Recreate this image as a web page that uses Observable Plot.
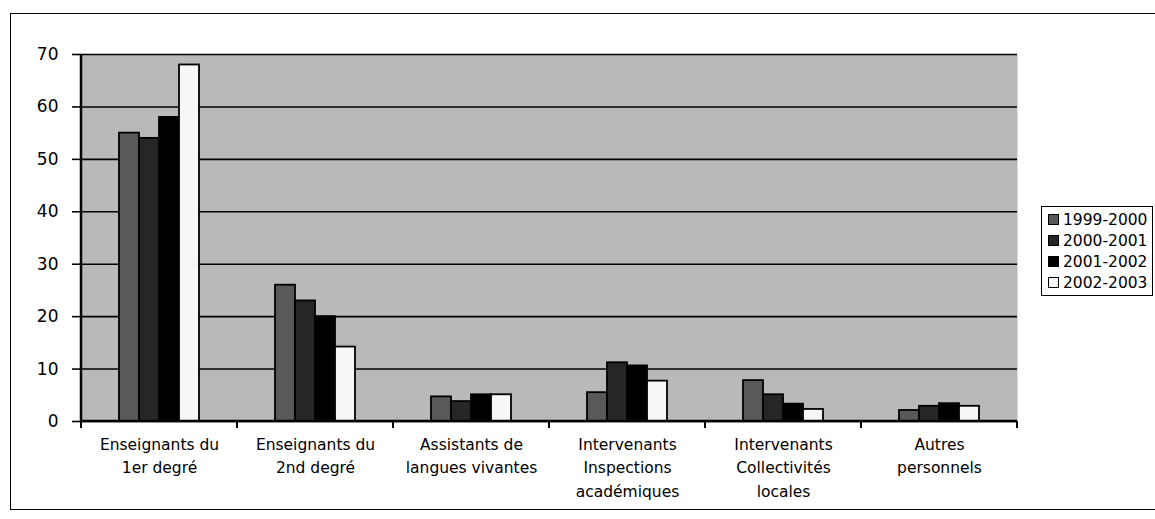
<!DOCTYPE html>
<html>
<head>
<meta charset="utf-8">
<script src="https://cdn.jsdelivr.net/npm/d3@7"></script>
<script src="https://cdn.jsdelivr.net/npm/@observablehq/plot@0.6"></script>
<style>
  html, body { margin: 0; padding: 0; background: #fff; }
  #wrap { position: relative; width: 1155px; height: 519px; overflow: hidden; font-family: "DejaVu Sans", sans-serif; }
  #border { position: absolute; left: 10px; top: 13px; width: 1160px; height: 497px; border: 1.5px solid #000; box-sizing: border-box; }
  #chart { position: absolute; left: 0; top: 0; }
  #legend { position: absolute; left: 1041px; top: 206px; width: 112px; border: 1.5px solid #000; box-sizing: border-box; background: #fff; padding: 2px 0 2px 6px; }
  .item { display: flex; align-items: center; height: 21px; font-size: 15.5px; color: #000; white-space: nowrap; }
  .sw { width: 11px; height: 11px; border: 1.5px solid #000; box-sizing: border-box; margin-right: 4px; }
</style>
</head>
<body>
<div id="wrap">
  <div id="border"></div>
  <div id="chart"></div>
  <div id="legend"></div>
</div>
<script>
const categories = [
  "Enseignants du\n1er degré",
  "Enseignants du\n2nd degré",
  "Assistants de\nlangues vivantes",
  "Intervenants\nInspections\nacadémiques",
  "Intervenants\nCollectivités\nlocales",
  "Autres\npersonnels"
];
const series = ["1999-2000", "2000-2001", "2001-2002", "2002-2003"];
const v1999 = [55, 26, 4.7, 5.5, 7.8, 2.1];
const v2000 = [54, 23, 3.8, 11.2, 5.1, 2.9];
const v2001 = [58, 20, 5.1, 10.6, 3.3, 3.4];
const v2002 = [68, 14.2, 5.1, 7.7, 2.3, 2.9];
const yTicks = [0, 10, 20, 30, 40, 50, 60, 70];

const seriesValues = [v1999, v2000, v2001, v2002];
const colors = ["#595959", "#262626", "#000000", "#f7f7f7"];
const data = [];
categories.forEach((c, i) => series.forEach((s, j) => data.push({cat: c, series: s, value: seriesValues[j][i]})));

const chart = Plot.plot({
  width: 1155,
  height: 519,
  marginTop: 54,
  marginBottom: 98,
  marginLeft: 79,
  marginRight: 136,
  style: {fontFamily: "DejaVu Sans, sans-serif", background: "transparent", color: "#000"},
  fx: {domain: categories, padding: 0, label: null},
  x: {domain: series, paddingInner: 0, paddingOuter: 1.82, axis: null},
  y: {domain: [0, 70], label: null},
  color: {domain: series, range: colors},
  marks: [
    Plot.frame({facet: "super", fill: "#b9b9b9", stroke: "none"}),
    Plot.ruleY(yTicks, {stroke: "#000", strokeWidth: 1.6}),
    Plot.barY(data, {fx: "cat", x: "series", y: "value", fill: "series", stroke: "#000", strokeWidth: 1.8}),
    Plot.axisY({ticks: yTicks, tickSize: 9, tickPadding: 14, fontSize: 17, strokeWidth: 1.6, label: null}),
    Plot.axisFx({anchor: "bottom", tickSize: 0, tickPadding: 12, fontSize: 15.5, lineHeight: 1.5, label: null}),
    Plot.frame({
      facet: "super",
      stroke: "none",
      render: (index, scales, values, dims) => {
        const {fx} = scales;
        const g = d3.create("svg:g").attr("stroke", "#000").attr("fill", "none");
        const x0 = dims.marginLeft, x1 = dims.width - dims.marginRight;
        const y0 = dims.height - dims.marginBottom, yTop = dims.marginTop;
        g.append("line").attr("x1", x0).attr("x2", x0).attr("y1", yTop).attr("y2", y0).attr("stroke-width", 2.5);
        g.append("line").attr("x1", x0).attr("x2", x1).attr("y1", y0).attr("y2", y0).attr("stroke-width", 2.5);
        const edges = categories.map(c => fx(c)).concat([x1]);
        for (const e of edges) g.append("line").attr("x1", e).attr("x2", e).attr("y1", y0).attr("y2", y0 + 7).attr("stroke-width", 2);
        return g.node();
      }
    })
  ]
});
document.getElementById("chart").appendChild(chart);

const legend = d3.select("#legend");
series.forEach((s, j) => {
  const it = legend.append("div").attr("class", "item");
  it.append("div").attr("class", "sw").style("background", colors[j]);
  it.append("span").text(s);
});
</script>
</body>
</html>
